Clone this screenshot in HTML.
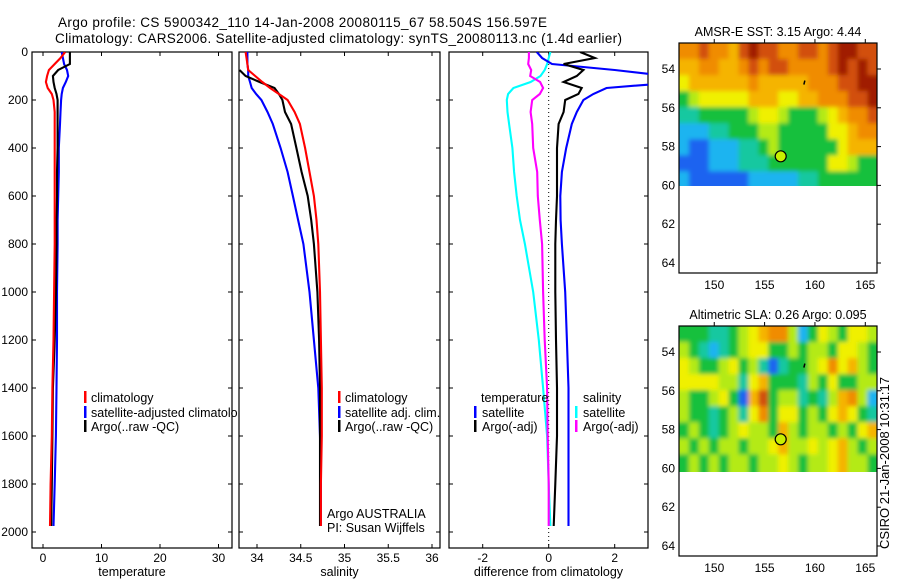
<!DOCTYPE html>
<html><head><meta charset="utf-8"><style>
html,body{margin:0;padding:0;background:#fff;}
svg{display:block;font-family:"Liberation Sans",sans-serif;}
</style></head><body>
<svg id="c" width="900" height="580" xmlns="http://www.w3.org/2000/svg">
<defs>
<clipPath id="cp1"><rect x="32" y="52" width="200" height="496"/></clipPath>
<clipPath id="cp2"><rect x="239" y="52" width="201" height="496"/></clipPath>
<clipPath id="cp3"><rect x="449" y="52" width="199" height="496"/></clipPath>
<clipPath id="cpLeg"><rect x="0" y="0" width="238" height="580"/></clipPath>
<clipPath id="cpm1"><rect x="679" y="43" width="198" height="143"/></clipPath>
<clipPath id="cpm2"><rect x="679" y="326" width="198" height="146"/></clipPath>
<filter id="bl" filterUnits="userSpaceOnUse" x="600" y="0" width="300" height="580"><feGaussianBlur stdDeviation="2.2"/></filter>
</defs>
<rect width="900" height="580" fill="#fff"/>
<text x="58" y="27" font-size="13.5" textLength="489">Argo profile: CS 5900342_110 14-Jan-2008 20080115_67 58.504S 156.597E</text>
<text x="55" y="43" font-size="13.5" textLength="567">Climatology: CARS2006. Satellite-adjusted climatology: synTS_20080113.nc (1.4d earlier)</text>
<g id="g"></g>
<text transform="translate(889,463) rotate(-90)" text-anchor="middle" font-size="13">CSIRO 21-Jan-2008 10:31:17</text>
</svg>
<script>
// ---- profile data ----
const depths   = [0,25,50,75,100,125,150,175,200,250,300,400,500,600,700,800,1000,1200,1400,1600,1800,1975];
const tempClim = [3.8,3.0,2.0,1.0,0.7,0.5,0.8,1.5,1.8,2.0,2.0,2.0,2.0,2.0,2.0,2.0,1.9,1.8,1.6,1.5,1.3,1.2];
const tempSat  = [3.2,3.4,3.6,4.1,4.3,3.9,3.4,3.2,3.1,3.0,2.9,2.7,2.7,2.6,2.5,2.5,2.4,2.4,2.3,2.2,2.0,1.8];
const tempArgo = [4.6,4.6,4.6,2.6,1.7,1.8,2.0,2.3,2.5,2.5,2.5,2.5,2.4,2.4,2.3,2.3,2.2,2.0,1.7,1.6,1.5,1.4];
const salClim  = [33.87,33.88,33.89,33.9,33.98,34.06,34.15,34.25,34.35,34.43,34.49,34.55,34.6,34.65,34.68,34.7,34.72,34.73,34.74,34.74,34.73,34.73];
const salSat   = [33.89,33.89,33.89,33.9,33.9,33.92,33.94,33.99,34.05,34.12,34.18,34.27,34.35,34.41,34.47,34.53,34.6,34.65,34.7,34.72,34.73,34.73];
const salArgo  = [null,null,null,33.8,33.87,34.03,34.2,34.25,34.29,34.32,34.39,34.45,34.51,34.58,34.62,34.65,34.69,34.71,34.72,34.72,34.72,34.72];
const dTempSat = [-0.36,-0.2,0.1,2.0,3.6,4.0,1.75,1.35,1.05,0.85,0.7,0.53,0.4,0.35,0.36,0.4,0.5,0.55,0.6,0.6,0.6,0.6];
const dTempArgo= [0.95,1.4,0.45,1.05,0.85,0.45,1.0,0.9,0.5,0.45,0.3,0.25,0.25,0.25,0.22,0.2,0.2,0.22,0.25,0.25,0.2,0.15];
const dSalSat  = [0.05,0.0,-0.05,-0.12,-0.25,-0.55,-1.07,-1.23,-1.27,-1.25,-1.2,-1.1,-1.05,-0.97,-0.87,-0.72,-0.47,-0.3,-0.17,-0.05,0.0,0.05];
const dSalArgo = [-0.6,-0.6,-0.62,-0.53,-0.56,-0.26,-0.17,-0.27,-0.5,-0.55,-0.5,-0.47,-0.35,-0.33,-0.27,-0.2,-0.17,-0.12,-0.05,-0.03,0.0,0.0];
const depthTicks = [0,200,400,600,800,1000,1200,1400,1600,1800,2000];
const tempTicks = [0,10,20,30];
const salTicks = [34,34.5,35,35.5,36];
const diffTicks = [-2,0,2];
// ---- map data (colour levels 0..9), rows from north to south ----
const sstRows = [
[7,7,8,7,7,6,8,9,8,8,7,7,8,8,7,8,9,9,8,8],
[6,6,7,7,6,6,7,8,7,8,8,7,7,7,7,8,9,8,9,8],
[5,6,6,6,6,6,6,7,6,6,6,6,6,7,7,7,8,8,9,9],
[3,4,5,5,5,5,5,6,6,6,5,5,6,6,7,7,7,8,8,9],
[2,2,3,3,3,3,3,4,5,5,4,3,3,3,4,5,6,7,7,8],
[1,1,1,2,2,3,3,3,4,4,3,3,3,3,3,5,5,6,7,7],
[1,0,0,1,1,1,2,2,3,4,3,3,3,3,3,3,5,6,6,6],
[0,0,0,1,1,1,2,2,2,3,3,3,3,3,3,5,5,4,3,3],
[1,0,0,0,0,0,0,1,1,1,1,1,2,2,3,3,3,3,3,3]];
const slaRows = [
[3,3,3,2,2,3,4,5,6,7,7,4,1,3,5,4,3,5,5,4],
[4,3,2,1,2,3,4,5,5,3,3,4,3,4,4,3,5,5,4,3],
[5,4,3,3,4,5,3,4,2,0,2,3,3,4,5,7,5,6,4,3],
[5,5,5,5,4,4,2,5,6,3,3,3,2,4,3,5,3,3,4,4],
[4,3,3,4,5,3,0,6,8,3,4,4,2,3,2,4,6,7,4,1],
[4,3,3,2,3,4,2,5,7,3,5,5,3,4,3,5,6,5,3,2],
[3,4,3,2,3,4,5,4,4,3,6,4,3,4,4,3,4,3,5,6],
[4,3,4,3,4,4,3,4,4,5,6,4,4,5,4,5,6,4,3,4],
[3,4,3,4,3,4,4,3,4,4,5,4,3,4,4,5,6,4,4,3]];
const palette = ["#1e64f0","#1eb4f0","#14c8a0","#14c03c","#b4ea14","#f0f000","#f5b400","#f08c00","#d2500a","#a01e00"];
const latTicks = [54,56,58,60,62,64];
const lonTicks = [150,155,160,165];
const floatLon = 156.6, floatLat = 58.5;

const NS="http://www.w3.org/2000/svg";
const G=document.getElementById('g');
function mk(tag,attrs,parent,txt){const e=document.createElementNS(NS,tag);for(const k in attrs)e.setAttribute(k,attrs[k]);if(txt!==undefined)e.textContent=txt;(parent||G).appendChild(e);return e;}
const yD = d => 52 + d*0.24;
const xT = v => 43 + v*5.85;
const xS = v => 257 + (v-34)*87.5;
const xDf = v => 548.7 + v*33;

function line(xs, vals, fn, color, clip, name){
  let d="";
  vals.forEach((v,i)=>{ if(v===null) return; d += (d?"L":"M")+fn(v).toFixed(1)+","+yD(depths[i]).toFixed(1); });
  const p=mk('path',{d:d,fill:'none',stroke:color,'stroke-width':2.1,'clip-path':'url(#'+clip+')'});
  
  
}
function panel(x0,x1,ticks,fn,lab,name,leftLabels){
  const r=mk('rect',{x:x0,y:52,width:x1-x0,height:496,fill:'none',stroke:'#000','stroke-width':1.2});
  
  
  ticks.forEach(t=>{const x=fn(t);
    mk('line',{x1:x,y1:52,x2:x,y2:56,stroke:'#000'});
    mk('line',{x1:x,y1:548,x2:x,y2:544,stroke:'#000'});
    const tl=mk('text',{x:x,y:562,'font-size':12,'text-anchor':'middle'},G,String(t));
    
    
  });
  depthTicks.forEach(d=>{const y=yD(d);
    mk('line',{x1:x1,y1:y,x2:x1-4,y2:y,stroke:'#000'});
    mk('line',{x1:x0,y1:y,x2:x0+4,y2:y,stroke:'#000'});
    if(leftLabels){const tl=mk('text',{x:x0-4,y:y+4,'font-size':12,'text-anchor':'end'},G,String(d));
      
      }
  });
  const al=mk('text',{x:(x0+x1)/2,y:576,'font-size':12.5,'text-anchor':'middle'},G,lab);
  
  
}
panel(32,232,tempTicks,xT,'temperature','temperature-panel',true);
panel(239,440,salTicks,xS,'salinity','salinity-panel',false);
panel(449,648,diffTicks,xDf,'difference from climatology','difference-panel',false);
const zl=mk('line',{x1:xDf(0),y1:52,x2:xDf(0),y2:548,stroke:'#000','stroke-dasharray':'1,3'});



line(depths,tempSat,xT,'#0000ff','cp1','temp-satellite-line');
line(depths,tempArgo,xT,'#000','cp1','temp-argo-line');
line(depths,tempClim,xT,'#ff0000','cp1','temp-climatology-line');
line(depths,salSat,xS,'#0000ff','cp2','salinity-satellite-line');
line(depths,salArgo,xS,'#000','cp2','salinity-argo-line');
line(depths,salClim,xS,'#ff0000','cp2','salinity-climatology-line');
line(depths,dSalSat,xDf,'#00ffff','cp3','diff-salinity-satellite-line');
line(depths,dSalArgo,xDf,'#ff00ff','cp3','diff-salinity-argo-line');
line(depths,dTempSat,xDf,'#0000ff','cp3','diff-temp-satellite-line');
line(depths,dTempArgo,xDf,'#000','cp3','diff-temp-argo-line');

function legend(mx,tx,y,color,label,name,clip){
  const g=mk('g',clip?{'clip-path':'url(#'+clip+')'}:{});
  
  
  if(color) mk('rect',{x:mx,y:y-6,width:2.5,height:12,fill:color},g);
  mk('text',{x:tx,y:y+5,'font-size':12.5},g,label);
}
legend(84,91,397,'#ff0000','climatology','legend-temp-climatology');
legend(84,91,412,'#0000ff','satellite-adjusted climatology','legend-temp-satellite','cpLeg');
legend(84,91,426,'#000','Argo(..raw -QC)','legend-temp-argo');
legend(338,345,397,'#ff0000','climatology','legend-sal-climatology');
legend(338,345,412,'#0000ff','satellite adj. clim.','legend-sal-satellite');
legend(338,345,426,'#000','Argo(..raw -QC)','legend-sal-argo');
legend(0,481,397,null,'temperature','legend-diff-temp-header');
legend(474,482,412,'#0000ff','satellite','legend-diff-temp-satellite');
legend(474,482,426,'#000','Argo(-adj)','legend-diff-temp-argo');
legend(0,583,397,null,'salinity','legend-diff-sal-header');
legend(575,583,412,'#00ffff','satellite','legend-diff-sal-satellite');
legend(575,583,426,'#ff00ff','Argo(-adj)','legend-diff-sal-argo');
legend(0,327,513,null,'Argo AUSTRALIA','pi-institution');
legend(0,327,527,null,'PI: Susan Wijffels','pi-name');

// ---- maps ----
const mx0=679, mx1=877, lon0=146.5, pxLon=10.07, pxLat=19.4;
const xL = lon => mx0 + (lon-lon0)*pxLon;
function map(top,rows,title,name,clip){
  const latTop=52.66, latBot=60.1;
  const yLat = lat => top + (lat-latTop)*pxLat;
  const t=mk('text',{x:778,y:top-7,'font-size':12.5,'text-anchor':'middle'},G,title);
  
  
  const gc=mk('g',{'clip-path':'url(#'+clip+')'});
  const gi=mk('g',{filter:'url(#bl)'},gc);
  
  
  const nr=rows.length, nc=rows[0].length;
  const cw=(166.2-lon0)/nc, ch=(latBot-latTop)/nr;
  const pad=10;
  rows.forEach((row,i)=>row.forEach((v,j)=>{
    let x=xL(lon0+j*cw), y=yLat(latTop+i*ch), w=cw*pxLon+0.6, h=ch*pxLat+0.6;
    if(j===0){x-=pad;w+=pad;} if(j===nc-1){w+=pad;}
    if(i===0){y-=pad;h+=pad;} if(i===nr-1){h+=pad;}
    const c=mk('rect',{x:x.toFixed(1),y:y.toFixed(1),width:w.toFixed(1),height:h.toFixed(1),fill:palette[v]},gi);
    
    
  }));
  const f=mk('rect',{x:mx0,y:top,width:mx1-mx0,height:230,fill:'none',stroke:'#000','stroke-width':1.2});
  
  
  latTicks.forEach(l=>{const y=yLat(l);
    mk('line',{x1:mx1,y1:y,x2:mx1+4,y2:y,stroke:'#000'});
    const tl=mk('text',{x:mx0-4,y:y+4,'font-size':12,'text-anchor':'end'},G,String(l));
    
    
  });
  lonTicks.forEach(l=>{const x=xL(l);
    mk('line',{x1:x,y1:top,x2:x,y2:top-4,stroke:'#000'});
    const tl=mk('text',{x:x,y:top+246,'font-size':12,'text-anchor':'middle'},G,String(l));
    
    
  });
  const m=mk('circle',{cx:xL(floatLon),cy:yLat(floatLat),r:5.5,fill:'#c8f000',stroke:'#000','stroke-width':1.2});
  
  
  mk('path',{d:'M'+xL(158.9)+','+(yLat(54.8))+'l1,-4',stroke:'#000','stroke-width':1.5});
}
map(43,sstRows,'AMSR-E SST: 3.15 Argo: 4.44','sst-map','cpm1');
map(326,slaRows,'Altimetric SLA: 0.26 Argo: 0.095','sla-map','cpm2');
</script>
</body></html>
